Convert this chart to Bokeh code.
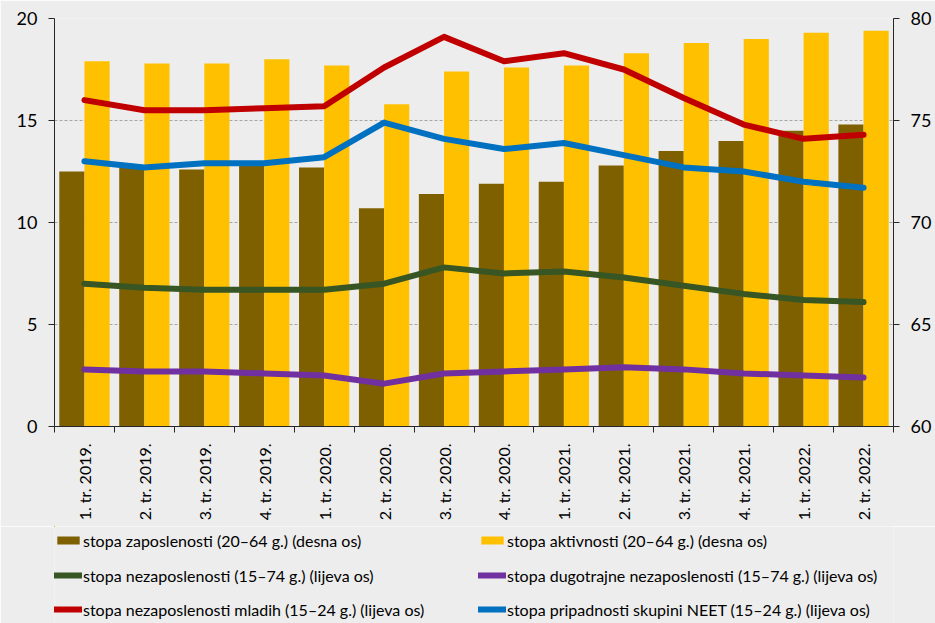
import numpy as np
from bokeh.plotting import figure
from bokeh.layouts import column
from bokeh.models import (Range1d, LinearAxis, FixedTicker, Legend,
                          LegendItem, ColumnDataSource)
from bokeh.embed import file_html
from bokeh.resources import INLINE

quarters = ["1. tr. 2019.", "2. tr. 2019.", "3. tr. 2019.", "4. tr. 2019.",
            "1. tr. 2020.", "2. tr. 2020.", "3. tr. 2020.", "4. tr. 2020.",
            "1. tr. 2021.", "2. tr. 2021.", "3. tr. 2021.", "4. tr. 2021.",
            "1. tr. 2022.", "2. tr. 2022."]
employment = [72.5, 72.7, 72.6, 72.8, 72.7, 70.7, 71.4, 71.9, 72.0, 72.8, 73.5, 74.0, 74.5, 74.8]
activity = [77.9, 77.8, 77.8, 78.0, 77.7, 75.8, 77.4, 77.6, 77.7, 78.3, 78.8, 79.0, 79.3, 79.4]
unemployment = [7.0, 6.8, 6.7, 6.7, 6.7, 7.0, 7.8, 7.5, 7.6, 7.3, 6.9, 6.5, 6.2, 6.1]
long_term = [2.8, 2.7, 2.7, 2.6, 2.5, 2.1, 2.6, 2.7, 2.8, 2.9, 2.8, 2.6, 2.5, 2.4]
youth = [16.0, 15.5, 15.5, 15.6, 15.7, 17.6, 19.1, 17.9, 18.3, 17.5, 16.1, 14.8, 14.1, 14.3]
neet = [13.0, 12.7, 12.9, 12.9, 13.2, 14.9, 14.1, 13.6, 13.9, 13.3, 12.7, 12.5, 12.0, 11.7]

left_ticks = [0, 5, 10, 15, 20]
right_ticks = [60, 65, 70, 75, 80]

labels = ["stopa zaposlenosti (20–64 g.) (desna os)",
          "stopa aktivnosti (20–64 g.) (desna os)",
          "stopa nezaposlenosti (15–74 g.) (lijeva os)",
          "stopa dugotrajne nezaposlenosti (15–74 g.) (lijeva os)",
          "stopa nezaposlenosti mladih (15–24 g.) (lijeva os)",
          "stopa pripadnosti skupini NEET (15–24 g.) (lijeva os)"]

FONT = "Lato"
BG = "#EDEDED"
C_EMP = "#7F6000"
C_ACT = "#FFC000"
C_UNEMP = "#375623"
C_LONG = "#7030A0"
C_YOUTH = "#C00000"
C_NEET = "#0070C0"

n = len(quarters)
centers = np.arange(n) + 0.5
BAR_OFF = 0.21
BAR_W = 0.42

src = ColumnDataSource(dict(x=centers, xl=centers - BAR_OFF, xr=centers + BAR_OFF,
                            emp=employment, act=activity, unemp=unemployment,
                            long=long_term, youth=youth, neet=neet))

p = figure(x_range=Range1d(0, n), y_range=Range1d(0, 20),
           frame_width=839, frame_height=408, output_backend="svg", toolbar_location=None,
           x_axis_location=None, min_border_left=54, min_border_right=42, min_border_top=18,
           min_border_bottom=100,
           background_fill_color=BG, border_fill_color=BG, outline_line_color=None)
p.extra_y_ranges = {"right": Range1d(60, 80)}

# grid
p.xgrid.visible = False
p.ygrid.ticker = FixedTicker(ticks=left_ticks)
p.ygrid.grid_line_color = "#A6A6A6"
p.ygrid.grid_line_dash = "3 2"
p.ygrid.grid_line_width = 1

def style_axis(ax):
    ax.major_tick_in = 0
    ax.major_tick_out = 6
    ax.minor_tick_line_color = None
    ax.axis_line_color = "#262626"
    ax.major_tick_line_color = "#262626"
    ax.major_label_text_font = FONT
    ax.major_label_text_font_size = "18px"
    ax.major_label_text_color = "#000000"
    ax.major_label_standoff = 11

# left axis
ya = p.yaxis[0]
ya.ticker = FixedTicker(ticks=left_ticks)
style_axis(ya)

# right axis
ra = LinearAxis(y_range_name="right", ticker=FixedTicker(ticks=right_ticks))
style_axis(ra)
p.add_layout(ra, "right")

# bottom tick-only axis at category boundaries
bounds = list(range(n + 1))
ta = LinearAxis(ticker=FixedTicker(ticks=bounds))
style_axis(ta)
ta.major_label_overrides = {b: "" for b in bounds}
ta.major_label_standoff = 0
ta.major_label_text_font_size = "1px"
p.add_layout(ta, "below")

# category label axis
ca = LinearAxis(ticker=FixedTicker(ticks=list(centers)))
ca.major_label_overrides = {float(c): q for c, q in zip(centers, quarters)}
ca.major_tick_line_color = None
ca.minor_tick_line_color = None
ca.axis_line_color = None
ca.major_label_orientation = np.pi / 2
ca.major_label_text_font = FONT
ca.major_label_text_font_size = "16px"
ca.major_label_text_color = "#000000"
ca.major_label_standoff = 5
p.add_layout(ca, "below")

# bars
p.vbar(x="xl", top="emp", bottom=60, width=BAR_W,
       y_range_name="right", source=src, fill_color=C_EMP, line_color=None)
p.vbar(x="xr", top="act", bottom=60, width=BAR_W,
       y_range_name="right", source=src, fill_color=C_ACT, line_color=None)

# lines
for col, color in [("unemp", C_UNEMP), ("long", C_LONG), ("youth", C_YOUTH), ("neet", C_NEET)]:
    p.line(x="x", y=col, source=src, line_color=color, line_width=6,
           line_join="round", line_cap="round")

# ---- legend strip (separate figure; its series lie outside its visible ranges) ----
leg = figure(x_range=Range1d(100, 100 + n), y_range=Range1d(-20, -10),
             width=935, height=97, output_backend="svg", toolbar_location=None,
             x_axis_location=None, y_axis_location=None,
             min_border_left=0, min_border_right=0, min_border_top=0, min_border_bottom=0,
             background_fill_color=BG, border_fill_color=BG, outline_line_color=None)
leg.xgrid.visible = False
leg.ygrid.visible = False
lr = [
    leg.vbar(x="xl", top="emp", bottom=60, width=BAR_W, source=src,
             fill_color=C_EMP, line_color=None),
    leg.vbar(x="xr", top="act", bottom=60, width=BAR_W, source=src,
             fill_color=C_ACT, line_color=None),
]
for col, color in [("unemp", C_UNEMP), ("long", C_LONG), ("youth", C_YOUTH), ("neet", C_NEET)]:
    lr.append(leg.line(x="x", y=col, source=src, line_color=color, line_width=6,
                       line_join="round", line_cap="round"))

row_y = [72, 37, 3]
for row in range(3):
    items = [LegendItem(label=labels[2 * row + k], renderers=[lr[2 * row + k]])
             for k in range(2)]
    lg = Legend(items=items, orientation="horizontal", location=(0, row_y[row]),
                label_text_font=FONT, label_text_font_size="16px", label_text_color="#000000",
                background_fill_color=BG, background_fill_alpha=0, border_line_color=None,
                glyph_width=28, glyph_height=10, label_standoff=1,
                label_height=22, label_width=382, spacing=13, padding=0, margin=0)
    leg.add_layout(lg, "center")

layout = column(p, leg, spacing=0)
open("out.html", "w").write(file_html(layout, INLINE))
